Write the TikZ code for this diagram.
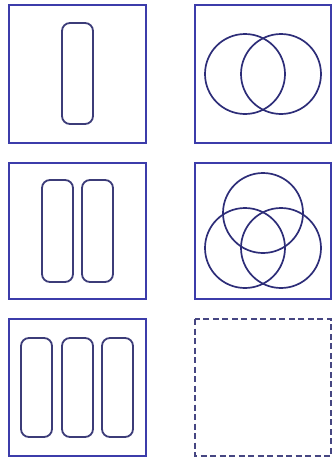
\documentclass[tikz,border=0pt]{standalone}
\begin{document}
\begin{tikzpicture}[x=1pt,y=-1pt,
  frame/.style={draw={rgb,255:red,60;green,60;blue,170},line width=1.8pt},
  dframe/.style={draw={rgb,255:red,70;green,70;blue,130},line width=1.8pt,dash pattern=on 6pt off 3.5pt},
  pill/.style={draw={rgb,255:red,60;green,60;blue,120},line width=1.8pt,rounded corners=8pt},
  ring/.style={draw={rgb,255:red,45;green,45;blue,120},line width=1.7pt}]
\useasboundingbox (0,0) rectangle (333,461);
% left column frames
\draw[frame] (9,5) rectangle (146,143);
\draw[frame] (9,163) rectangle (146,299);
\draw[frame] (9,319) rectangle (146,456);
% right column frames
\draw[frame] (195,5) rectangle (331,143);
\draw[frame] (195,163) rectangle (331,299);
\draw[dframe] (195,319) rectangle (331,456);
% pills
\draw[pill] (62,23) rectangle (93,124);
\draw[pill] (42,180) rectangle (73,282);
\draw[pill] (82,180) rectangle (113,282);
\draw[pill] (21,338) rectangle (52,437);
\draw[pill] (62,338) rectangle (93,437);
\draw[pill] (102,338) rectangle (133,437);
% circles
\draw[ring] (245,74) circle (40);
\draw[ring] (281,74) circle (40);
\draw[ring] (263,213) circle (40);
\draw[ring] (245,248) circle (40);
\draw[ring] (281,248) circle (40);
\end{tikzpicture}
\end{document}
